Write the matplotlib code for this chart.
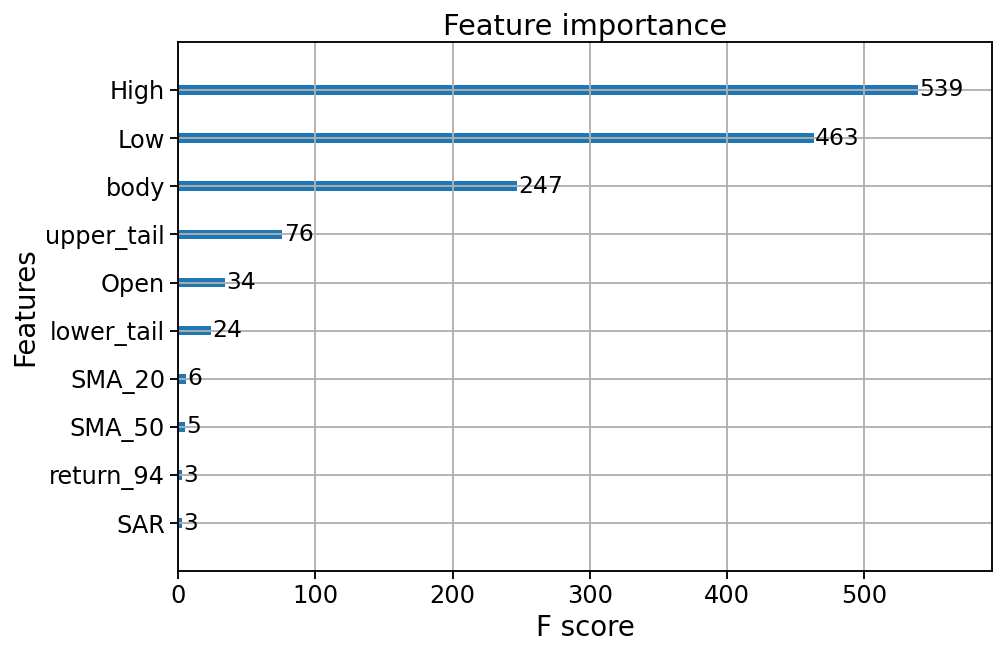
import matplotlib
matplotlib.use("Agg")
import matplotlib.pyplot as plt
import numpy as np

features = ["SAR", "return_94", "SMA_50", "SMA_20", "lower_tail",
            "Open", "upper_tail", "body", "Low", "High"]
scores = [3, 3, 5, 6, 24, 34, 76, 247, 463, 539]

S = 2.31  # scale factor from the original small figure

plt.rcParams['font.family'] = ['DejaVu Sans']
fig, ax = plt.subplots(figsize=(10, 6.53), dpi=100)
fig.subplots_adjust(left=0.178, right=0.992, top=0.936, bottom=0.125)

ylocs = np.arange(len(features))
ax.barh(ylocs, scores, height=0.2, align='center', color='#1f77b4')
for x, y in zip(scores, ylocs):
    ax.text(x + 1, y, str(x), va='center', fontsize=7.3 * S)

ax.set_yticks(ylocs)
ax.set_yticklabels(features)
ax.set_xlim(0, max(scores) * 1.1)
ax.set_ylim(-1, len(features))
ax.grid(True, color='#b0b0b0', linewidth=0.8 * S * 0.72)
ax.tick_params(labelsize=7.5 * S, width=0.8 * S * 0.72, length=3.5 * S * 0.72)
for sp in ax.spines.values():
    sp.set_linewidth(0.8 * S * 0.72)

ax.set_title("Feature importance", fontsize=9.0 * S, pad=5)
ax.set_xlabel("F score", fontsize=8.6 * S)
ax.set_ylabel("Features", fontsize=8.6 * S)

fig.savefig("out.png")
